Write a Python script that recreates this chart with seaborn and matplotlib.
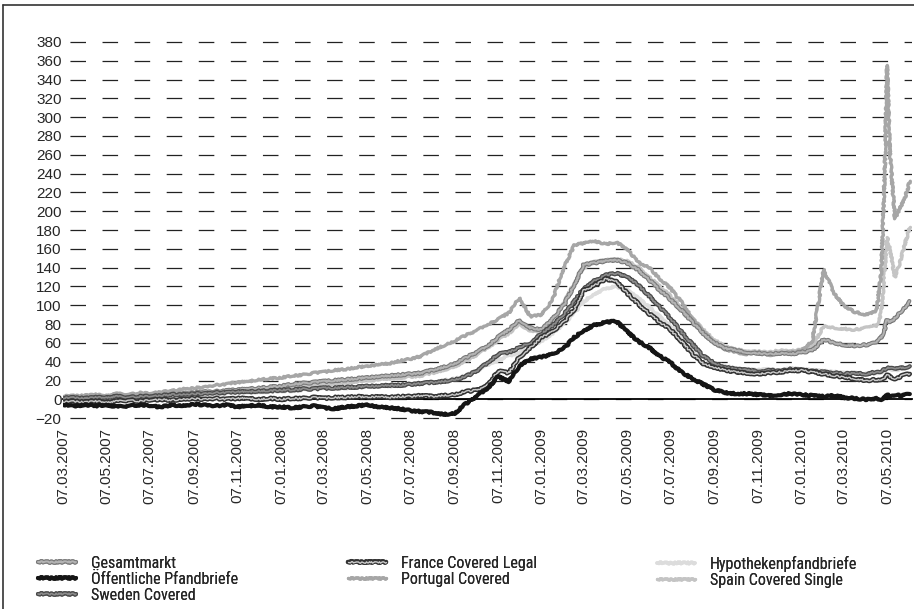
import pandas as pd
import matplotlib
matplotlib.use("Agg")
import matplotlib.pyplot as plt
import matplotlib.patheffects as pe
from matplotlib import font_manager as fm
from matplotlib.lines import Line2D
import seaborn as sns

# Stützstellen: 7. und 22. jedes Monats, ab Ende April 2010 feiner
dates = [pd.Timestamp(y, m, d) for y in range(2007, 2011) for m in range(1, 13) for d in (7, 22)]
dates = [t for t in dates if pd.Timestamp(2007, 3, 7) <= t <= pd.Timestamp(2010, 4, 22)]
dates += pd.to_datetime(["2010-04-29", "2010-05-04", "2010-05-07", "2010-05-11",
                         "2010-05-18", "2010-05-25", "2010-06-01", "2010-06-08"]).tolist()

tick_dates = ["07.03.2007", "07.05.2007", "07.07.2007", "07.09.2007", "07.11.2007",
              "07.01.2008", "07.03.2008", "07.05.2008", "07.07.2008", "07.09.2008", "07.11.2008",
              "07.01.2009", "07.03.2009", "07.05.2009", "07.07.2009", "07.09.2009", "07.11.2009",
              "07.01.2010", "07.03.2010", "07.05.2010"]

# Werte (Spreads in bp), je Zeile: 2007 / 2008 / 2009 / 2010
gesamtmarkt = [-1, 0, 0, 1, 0, 1, 2, 2, 3, 4, 5, 6, 7, 8, 8, 9, 10, 11, 12, 13,
               14, 16, 17, 18, 19, 20, 21, 22, 23, 24, 25, 26, 27, 28, 31, 34, 38, 44, 50, 56, 66, 74, 84, 76,
               74, 85, 100, 122, 143, 145, 147, 148, 145, 138, 127, 116, 106, 95, 82, 70, 60, 54, 52, 50, 49, 48, 49, 48,
               50, 52, 64, 60, 58, 57, 58, 60, 66, 76, 84, 82, 86, 92, 98, 104]
oeffentliche = [-6, -7, -6, -7, -6, -8, -7, -6, -7, -8, -6, -7, -5, -6, -7, -6, -8, -7, -6, -8,
                -8, -9, -8, -7, -9, -10, -8, -7, -6, -8, -9, -10, -12, -13, -14, -16, -15, -5, 3, 11, 24, 19, 36, 43,
                45, 48, 54, 66, 73, 79, 82, 83, 72, 62, 55, 46, 39, 29, 22, 16, 10, 7, 6, 6, 5, 4, 5, 6,
                5, 4, 3, 4, 2, 1, 0, 1, 0, 3, 5, 3, 5, 4, 5, 5]
sweden = [1, 2, 1, 2, 2, 3, 2, 3, 3, 4, 5, 5, 6, 6, 7, 7, 8, 8, 9, 9,
          10, 10, 11, 11, 12, 12, 13, 13, 14, 14, 15, 15, 16, 17, 18, 19, 21, 24, 30, 38, 48, 50, 55, 60,
          70, 78, 90, 104, 118, 126, 132, 134, 130, 122, 110, 98, 86, 72, 58, 46, 38, 34, 32, 31, 30, 31, 30, 32,
          31, 30, 29, 28, 27, 28, 27, 29, 30, 32, 34, 33, 32, 33, 34, 35]
france = [-3, -2, -3, -2, -3, -2, -1, -2, -1, 0, -1, 0, 1, 0, 1, 0, 1, 1, 0, 1,
          0, 1, 1, 2, 1, 2, 2, 3, 2, 3, 2, 3, 3, 4, 3, 4, 5, 8, 10, 14, 30, 28, 45, 55,
          66, 72, 82, 96, 116, 121, 128, 125, 113, 102, 91, 82, 74, 62, 48, 38, 34, 31, 29, 28, 27, 28, 29, 30,
          31, 29, 27, 25, 24, 22, 20, 21, 20, 22, 26, 24, 22, 24, 26, 27]
portugal = [3, 4, 4, 5, 4, 6, 5, 7, 6, 8, 9, 11, 12, 13, 15, 16, 18, 19, 21, 22,
            23, 25, 26, 28, 29, 31, 32, 34, 35, 37, 38, 41, 43, 46, 52, 57, 62, 68, 73, 79, 85, 92, 108, 88,
            90, 105, 140, 164, 166, 168, 165, 167, 160, 146, 140, 128, 118, 104, 86, 72, 60, 53, 50, 48, 50, 47, 49, 50,
            52, 62, 138, 112, 100, 93, 90, 94, 135, 250, 355, 262, 192, 203, 214, 232]
hypotheken = [0, 1, 0, 1, 1, 2, 1, 2, 2, 3, 3, 4, 4, 5, 5, 6, 7, 7, 8, 8,
              9, 9, 10, 11, 11, 12, 12, 13, 13, 14, 14, 15, 16, 17, 18, 20, 22, 25, 30, 36, 42, 46, 50, 56,
              62, 70, 80, 92, 104, 112, 118, 120, 116, 108, 98, 88, 78, 66, 54, 44, 38, 35, 33, 32, 31, 32, 31, 33,
              32, 31, 30, 29, 28, 28, 27, 28, 29, 31, 33, 32, 31, 32, 33, 34]
spain = [2, 2, 3, 3, 4, 4, 5, 5, 6, 6, 7, 7, 8, 8, 9, 9, 10, 10, 11, 11,
         12, 13, 14, 15, 16, 17, 18, 19, 20, 21, 22, 23, 24, 25, 28, 31, 35, 40, 47, 54, 63, 70, 80, 73,
         72, 84, 102, 124, 140, 146, 148, 149, 147, 141, 130, 120, 110, 98, 86, 74, 63, 56, 53, 52, 51, 50, 52, 51,
         53, 56, 78, 76, 75, 74, 76, 78, 92, 140, 172, 160, 130, 145, 165, 183]

series = {
    "Hypothekenpfandbriefe": hypotheken,
    "Spain Covered Single": spain,
    "Portugal Covered": portugal,
    "Gesamtmarkt": gesamtmarkt,
    "Sweden Covered": sweden,
    "France Covered Legal": france,
    "Öffentliche Pfandbriefe": oeffentliche,
}

# Graustufen wie im Scan (Farbe, Breite, Randfarbe, Randbreite)
styles = {
    "Gesamtmarkt": ("#b3b3b3", 1.4, "#7a7a7a", 3.0),
    "Öffentliche Pfandbriefe": ("#151515", 3.0, None, None),
    "Sweden Covered": ("#8c8c8c", 1.2, "#4a4a4a", 3.0),
    "France Covered Legal": ("#cccccc", 1.0, "#333333", 3.2),
    "Portugal Covered": ("#a6a6a6", 2.4, None, None),
    "Hypothekenpfandbriefe": ("#dcdcdc", 2.6, None, None),
    "Spain Covered Single": ("#c4c4c4", 2.4, None, None),
}

sns.set_style("white")
names = {f.name for f in fm.fontManager.ttflist}
tick_font = "Liberation Sans" if "Liberation Sans" in names else "DejaVu Sans"
legend_font, legend_stretch = "DejaVu Sans", "condensed"
for cand in ["Liberation Sans Narrow", "Roboto Condensed", "Open Sans Condensed"]:
    if cand in names:
        legend_font, legend_stretch = cand, "normal"
        break
plt.rcParams["font.family"] = [tick_font, "DejaVu Sans"]
plt.rcParams["lines.scale_dashes"] = False

fig = plt.figure(figsize=(9.14, 6.09), dpi=100)
ax = fig.add_axes([0.0689, 0.3103, 0.9289, 0.624])

lines = {}
for name, vals in series.items():
    col, lw, edge, ew = styles[name]
    sns.lineplot(x=dates, y=vals, ax=ax, color=col, linewidth=lw, label=name, legend=False)
    ln = ax.get_lines()[-1]
    ln.set_sketch_params(scale=0.8, length=3, randomness=12)
    if edge:
        ln.set_path_effects([pe.Stroke(linewidth=ew, foreground=edge), pe.Normal()])
    lines[name] = ln

ax.set_xlim(pd.Timestamp("2007-03-07"), pd.Timestamp("2010-06-11"))
ax.set_ylim(-22, 382)
ax.set_yticks(range(-20, 381, 20))
ax.set_xticks(pd.to_datetime(tick_dates, format="%d.%m.%Y"))
ax.set_xticklabels(tick_dates)
ax.tick_params(axis="y", length=0, pad=1, labelsize=11)
ax.tick_params(axis="x", direction="out", length=4.3, width=1.1, pad=16.5, color="black",
               labelrotation=90, labelsize=11)
ax.set_xlabel("")
ax.set_ylabel("")

ax.grid(True, axis="y", color="#222222", linewidth=0.9, linestyle=(18.1, (11.2, 11.9)))
ax.grid(False, axis="x")
for s in ["left", "right", "top"]:
    ax.spines[s].set_visible(False)
ax.spines["bottom"].set_position(("data", 0))
ax.spines["bottom"].set_color("black")
ax.spines["bottom"].set_linewidth(1.3)
ax.spines["bottom"].set_zorder(1.5)

# Legende in drei Spalten
cols = [(["Gesamtmarkt", "Öffentliche Pfandbriefe", "Sweden Covered"], 0.0416),
        (["France Covered Legal", "Portugal Covered"], 0.3807),
        (["Hypothekenpfandbriefe", "Spain Covered Single"], 0.719)]
for labels, x0 in cols:
    leg = fig.legend(handles=[lines[l] for l in labels], labels=labels, loc="upper left",
                     bbox_to_anchor=(x0, 0.087), frameon=False, borderpad=0, borderaxespad=0,
                     handlelength=2.4, handletextpad=0.9, labelspacing=0.05,
                     prop={"family": [legend_font, "DejaVu Sans"], "stretch": legend_stretch, "size": 11.5})
    fig.add_artist(leg)

# Rahmen des Scans (links und oben)
fig.add_artist(Line2D([0.0033, 0.0033], [0, 0.9918], transform=fig.transFigure, color="#333333", lw=1.2))
fig.add_artist(Line2D([0.0033, 1], [0.9918, 0.9918], transform=fig.transFigure, color="#333333", lw=1.2))

fig.savefig("out.png", dpi=100)
